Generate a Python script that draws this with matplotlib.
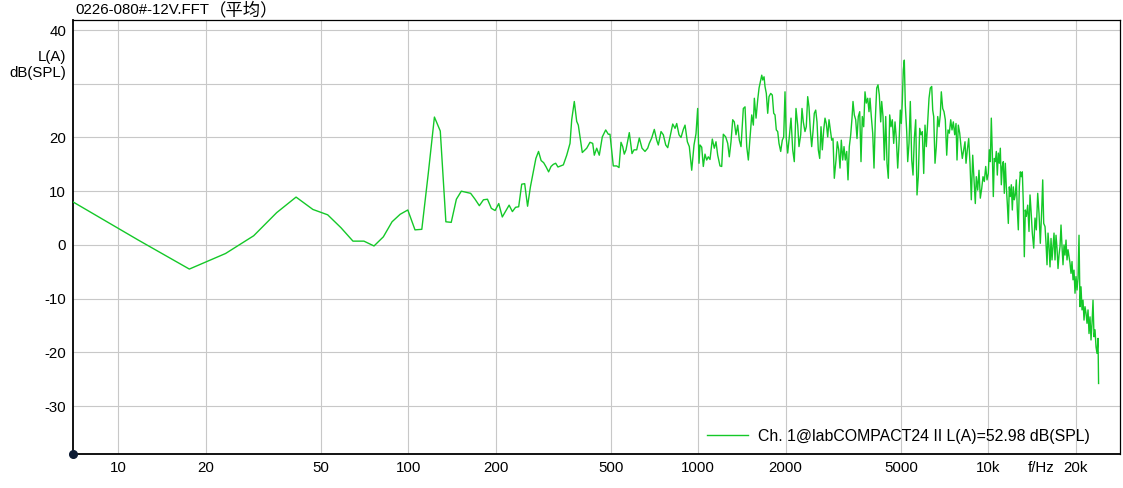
import numpy as np
import matplotlib
matplotlib.use('Agg')
import matplotlib.pyplot as plt
from matplotlib.ticker import FixedLocator, FixedFormatter

plt.rcParams['font.family'] = ['Liberation Sans', 'Noto Sans CJK SC']

title = '0226-080#-12V.FFT'
title_cjk = '（平均）'
legend_label = 'Ch. 1@labCOMPACT24 II L(A)=52.98 dB(SPL)'

# low end: single FFT bins (5.86 Hz resolution)
freq_low = [5.86, 11.72, 17.58, 23.44, 29.30, 35.16, 41.02, 46.88, 52.73, 58.59,
            64.45, 70.31, 76.17, 82.03, 87.89, 93.75, 99.61, 105.47, 111.33, 117.19,
            123.05, 128.91, 134.77, 140.63, 146.48, 152.34, 158.20, 164.06, 169.92, 175.78,
            181.64, 187.50, 193.36, 199.22, 205.08, 210.94, 216.80, 222.66, 228.52, 234.38,
            240.23, 246.09, 251.95, 257.81, 263.67, 269.53, 275.39, 281.25, 287.11, 292.97,
            298.83, 304.69, 310.55, 316.41, 322.27, 328.13]
level_low = [10.4, 0.9, -4.5, -1.6, 1.7, 6.0, 8.9, 6.6, 5.6, 3.2,
             0.7, 0.7, -0.2, 1.5, 4.3, 5.7, 6.5, 2.8, 2.9, 13.3,
             23.8, 21.2, 4.3, 4.2, 8.5, 10.0, 9.8, 9.6, 8.5, 7.3,
             8.4, 8.5, 6.8, 6.4, 7.7, 5.2, 6.3, 7.4, 6.2, 7.0,
             7.1, 11.3, 11.4, 7.2, 10.8, 13.5, 16.1, 17.4, 15.7, 15.3,
             14.5, 13.6, 14.6, 15.0, 15.2, 14.5]

freq_mid = [342.5, 351.8, 361.1, 366.0, 373.6, 380.8, 385.7, 398.1, 412.3, 423.2,
            432.4, 437.9, 446.3, 455.6, 466.6, 479.4, 489.4, 496.0, 509.2, 523.1,
            532.8, 541.3, 548.7, 555.6, 563.2, 578.2, 590.7, 600.2, 613.2, 626.0,
            639.6, 655.0, 669.1, 677.6, 690.7, 705.2, 718.8, 728.0, 743.8, 757.5,
            772.1, 784.5, 798.9, 816.2, 831.4, 842.5, 858.0, 871.8, 887.9, 900.0,
            916.8, 931.1, 949.0, 966.5, 981.9]
level_mid = [14.9, 16.7, 18.9, 23.3, 26.7, 23.0, 22.3, 17.2, 18.0, 19.1,
             18.9, 16.7, 18.0, 16.7, 20.1, 21.4, 20.6, 20.6, 14.7, 14.7,
             14.4, 19.1, 18.3, 16.9, 17.7, 20.9, 17.0, 17.7, 17.7, 19.9,
             18.0, 17.4, 18.0, 18.9, 19.9, 21.5, 19.5, 18.6, 21.1, 20.5,
             18.6, 18.1, 20.1, 22.5, 21.7, 22.6, 20.5, 20.0, 21.5, 22.3,
             19.2, 18.3, 13.9, 18.6, 20.7]

freq_1k = [995, 1005.6, 1013.6, 1027.4, 1040.5, 1054.6, 1068.9, 1082.6, 1097.4, 1117.6,
           1135.5, 1150.9, 1166.5, 1188.0, 1204.2, 1219.6, 1243.0, 1263.0, 1279.1, 1296.5,
           1314.1, 1330.9, 1349.0, 1367.4, 1385.0, 1403.8, 1429.7, 1449.2, 1468.9, 1487.8,
           1508.1, 1528.5, 1548.1, 1560.4, 1581.7, 1603.2, 1619.8, 1641.8, 1654.9, 1668.1,
           1685.4, 1698.2, 1716.0, 1735.1, 1753.1, 1776.9, 1799.6, 1819.7, 1838.6, 1857.7,
           1878.4, 1897.9, 1923.6, 1948.3, 1970.0, 1990.5, 2011.2, 2033.6, 2059.6, 2087.6,
           2115.9, 2142.9, 2172.0, 2201.5, 2224.4, 2254.6, 2278.0, 2301.6, 2332.8, 2357.0,
           2383.4, 2408.1, 2433.1, 2460.2, 2485.8, 2511.9, 2540.0, 2566.3, 2592.9, 2621.9,
           2649.1, 2676.6, 2706.5, 2734.6, 2763.0, 2793.9, 2822.9, 2852.2, 2884.0, 2913.9,
           2944.2]
level_1k = [25.4, 15.2, 18.6, 18.2, 14.6, 16.9, 15.8, 16.4, 15.9, 19.7,
            18.0, 19.2, 16.7, 14.7, 14.6, 20.6, 20.1, 18.9, 16.4, 19.2,
            23.3, 22.9, 20.5, 22.3, 19.5, 18.3, 25.4, 25.7, 18.3, 15.8,
            20.1, 24.2, 22.3, 27.3, 23.6, 27.1, 29.2, 30.7, 31.6, 30.7,
            31.3, 29.5, 28.2, 24.5, 27.6, 28.2, 27.9, 24.5, 24.2, 21.4,
            21.1, 18.9, 17.4, 19.5, 20.1, 28.5, 19.8, 17.1, 20.1, 23.6,
            17.7, 15.5, 25.4, 22.3, 18.3, 20.5, 25.4, 22.9, 21.1, 22.0,
            27.6, 25.7, 21.4, 18.3, 21.1, 24.5, 25.1, 22.9, 17.7, 16.1,
            22.0, 17.7, 21.4, 23.6, 22.6, 20.1, 23.3, 21.4, 19.5, 19.8,
            12.4]

freq_3k = [2984.2, 3015.2, 3048.9, 3080.5, 3112.4, 3147.2, 3179.9, 3212.9, 3248.8, 3282.5,
           3316.5, 3353.6, 3388.4, 3415.4, 3450.8, 3489.4, 3525.6, 3562.1, 3601.9, 3639.2,
           3677.0, 3718.1, 3756.7, 3795.6, 3838.1, 3877.9, 3908.8, 3949.4, 3993.8, 4035.1,
           4077.0, 4122.6, 4165.5, 4208.6, 4255.6, 4289.5, 4334.1, 4379.1, 4428.0, 4474.0,
           4520.4, 4570.9, 4618.3, 4666.2, 4718.3, 4767.3, 4816.8, 4870.7, 4921.2, 4972.2,
           5011.9, 5051.9, 5092.2, 5132.8, 5173.7, 5231.6, 5273.3, 5328.0, 5383.3, 5443.5,
           5500.0, 5557.0, 5619.2, 5677.5, 5736.3, 5800.5, 5860.6, 5921.4, 5987.6, 6049.7,
           6112.5, 6180.8, 6245.0, 6309.6, 6380.2, 6431.0, 6482.2, 6549.5, 6617.4, 6691.4,
           6760.8, 6831.0, 6885.5, 6962.5, 7034.7, 7107.6, 7187.1, 7261.6, 7337.0, 7418.9,
           7496.0, 7573.7, 7658.4, 7737.8, 7799.5, 7880.4, 7968.5]
level_3k = [15.8, 19.2, 17.7, 14.3, 19.5, 15.8, 18.3, 15.8, 17.4, 12.1,
            18.3, 20.5, 23.6, 26.7, 24.2, 23.3, 19.8, 23.9, 24.8, 15.5,
            23.9, 22.0, 28.5, 26.4, 27.3, 24.8, 27.3, 23.9, 20.8, 14.3,
            23.3, 29.2, 29.8, 27.9, 22.9, 26.7, 23.9, 15.8, 23.9, 15.2,
            12.4, 24.2, 22.0, 23.3, 18.9, 22.9, 19.8, 14.3, 18.9, 25.1,
            22.6, 26.7, 32.6, 34.4, 26.0, 21.1, 15.5, 18.9, 26.7, 15.8,
            13.0, 19.8, 23.3, 9.3, 12.7, 21.7, 20.5, 21.1, 13.3, 22.3,
            18.3, 22.9, 27.3, 29.2, 29.5, 25.1, 23.9, 15.2, 18.3, 23.9,
            22.0, 24.2, 28.5, 25.4, 24.8, 23.3, 16.7, 21.4, 20.8, 23.3,
            21.4, 22.9, 20.5, 22.6, 15.8, 22.3, 20.8]

freq_8k = [8051.1, 8134.6, 8225.6, 8311.0, 8377.1, 8464.1, 8558.6, 8647.4, 8737.1, 8834.8,
           8926.4, 9018.9, 9090.9, 9192.5, 9287.8, 9384.1, 9489.1, 9587.5, 9687.1, 9795.2,
           9897.3, 10000, 10080, 10160, 10241, 10323, 10405, 10488, 10571, 10656,
           10741, 10826, 10913, 11000, 11088, 11176, 11265, 11355, 11446, 11537,
           11629, 11722, 11815, 11909, 12004, 12100, 12196, 12294, 12392, 12491,
           12589, 12690, 12791, 12893, 12996, 13099, 13204, 13309, 13415]
level_8k = [18.3, 16.1, 17.7, 19.2, 15.2, 17.7, 19.8, 15.2, 8.4, 16.7,
            12.1, 7.7, 12.7, 10.2, 13.9, 8.7, 10.5, 12.7, 11.8, 14.6,
            12.1, 13.3, 17.7, 15.5, 23.6, 17.1, 9.0, 16.1, 15.5, 17.4,
            13.0, 17.1, 15.2, 18.0, 11.2, 14.6, 15.5, 9.6, 15.2, 10.8,
            7.7, 4.0, 10.8, 9.0, 11.2, 6.5, 10.8, 8.4, 9.3, 12.1,
            6.5, 2.8, 10.8, 13.6, 12.7, 13.6, 7.7, -2.2, 6.5]

freq_13k = [13522, 13673, 13815, 13925, 14036, 14181, 14340, 14489, 14639, 14803,
            14956, 15112, 15281, 15403, 15525, 15687, 15812, 15938, 16065, 16193,
            16322, 16452, 16583, 16715, 16849, 16982, 17118, 17254, 17392, 17530,
            17670, 17811, 17953, 18096, 18240, 18386, 18532, 18680, 18829, 18979,
            19130, 19283, 19436, 19591, 19747, 19905, 20064, 20224, 20385, 20547,
            20711, 20876, 21043, 21210, 21380, 21550, 21722, 21895, 22070, 22246,
            22423, 22602, 22782, 22963, 23146, 23331, 23517, 23704, 23893, 23950,
            24000]
level_13k = [5.3, 7.4, 2.5, 9.3, 6.5, 2.2, -0.6, 5.0, 2.8, 9.6,
             5.9, 0.3, 6.5, 12.1, 4.0, 3.4, 0.3, -3.7, 2.2, -0.3,
             -4.1, 1.2, -2.8, -0.3, 2.2, -2.8, 1.8, -0.6, -4.4, -1.9,
             -0.3, 3.7, -0.3, -3.7, 0.0, -1.9, 0.9, -2.8, -0.9, -2.2,
             -3.4, -5.3, -3.1, -6.5, -4.7, -9.0, -5.9, -8.4, -6.2, 1.8,
             -11.5, -7.8, -12.1, -10.3, -14.0, -11.5, -12.7, -14.6, -12.1, -16.5,
             -13.4, -17.7, -14.6, -10.3, -17.1, -15.8, -19.0, -20.2, -17.4, -21.4,
             -25.8]

x_ticks = [10, 20, 50, 100, 200, 500, 1000, 2000, 5000, 10000, 20000]
x_labels = ['10', '20', '50', '100', '200', '500', '1000', '2000', '5000', '10k', '20k']
y_ticks = [40, 30, 20, 10, 0, -10, -20, -30]
y_labels = ['40', '', '20', '10', '0', '-10', '-20', '-30']

freq = np.array(freq_low + freq_mid + freq_1k + freq_3k + freq_8k + freq_13k)
level = np.array(level_low + level_mid + level_1k + level_3k + level_8k + level_13k)

fs = 10.8
fig = plt.figure(figsize=(11.23, 4.88), dpi=100)
ax = fig.add_axes([73 / 1123, 34 / 488, 1047 / 1123, 434 / 488])

green = '#14c828'
ax.plot(freq, level, color=green, lw=1.0, label=legend_label, zorder=3)

ax.set_xscale('log')
ax.set_xlim(6.98, 28450)
ax.set_ylim(-38.93, 41.87)

ax.xaxis.set_major_locator(FixedLocator(x_ticks))
ax.xaxis.set_major_formatter(FixedFormatter(x_labels))
# unit label sits between 10k and 20k like a tick label, without gridline
ax.xaxis.set_minor_locator(FixedLocator([15200]))
ax.xaxis.set_minor_formatter(FixedFormatter(['f/Hz']))
ax.yaxis.set_major_locator(FixedLocator(y_ticks))
ax.yaxis.set_major_formatter(FixedFormatter(y_labels))
ax.yaxis.set_minor_locator(FixedLocator([]))

ax.tick_params(which='both', length=0, labelsize=fs, colors='black')
ax.tick_params(axis='x', which='both', pad=5)
ax.tick_params(axis='y', pad=5)
ax.grid(True, which='major', color='#c8c8c8', lw=0.8)
ax.set_axisbelow(True)

for side in ['left', 'bottom']:
    ax.spines[side].set_linewidth(1.3)
for side in ['top', 'right']:
    ax.spines[side].set_linewidth(0.9)

ax.plot([0], [0], 'o', color='#0d1b33', ms=5.5, transform=ax.transAxes, clip_on=False, zorder=5)

t1 = fig.text(75 / 1123, 1 - 14 / 488, title, fontsize=fs, va='baseline', ha='left')
ax.annotate(title_cjk, xy=(1, 0), xycoords=t1, xytext=(0, -1), textcoords='offset points',
            va='bottom', ha='left', fontsize=12.5, annotation_clip=False)
fig.text(66 / 1123, 1 - 65 / 488, 'L(A)\ndB(SPL)', fontsize=fs, ha='right', va='center',
         multialignment='right', linespacing=1.2)

ax.legend(loc='center right', bbox_to_anchor=(1017 / 1047, 18 / 434), frameon=False,
          fontsize=11.4, handlelength=2.6, handletextpad=0.65, borderpad=0, borderaxespad=0)

fig.savefig('out.png', dpi=100, facecolor='white')
